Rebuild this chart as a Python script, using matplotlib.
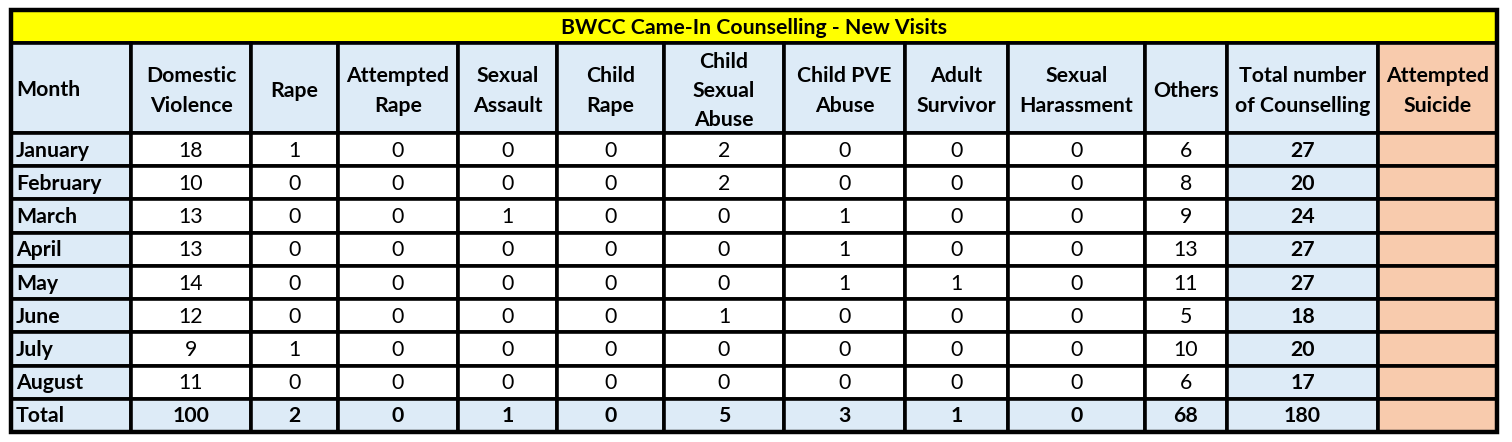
import matplotlib.pyplot as plt
from matplotlib.patches import Rectangle

titulo = 'BWCC Came-In Counselling - New Visits'
encabezados = ['Month', 'Domestic\nViolence', 'Rape', 'Attempted\nRape', 'Sexual\nAssault',
               'Child\nRape', 'Child\nSexual\nAbuse', 'Child PVE\nAbuse', 'Adult\nSurvivor',
               'Sexual\nHarassment', 'Others', 'Total number\nof Counselling', 'Attempted\nSuicide']
meses = ['January', 'February', 'March', 'April', 'May', 'June', 'July', 'August', 'Total']
domestic = [18, 10, 13, 13, 14, 12, 9, 11, 100]
rape = [1, 0, 0, 0, 0, 0, 1, 0, 2]
attempted_rape = [0, 0, 0, 0, 0, 0, 0, 0, 0]
sexual_assault = [0, 0, 1, 0, 0, 0, 0, 0, 1]
child_rape = [0, 0, 0, 0, 0, 0, 0, 0, 0]
child_sexual = [2, 2, 0, 0, 0, 1, 0, 0, 5]
child_pve = [0, 0, 1, 1, 1, 0, 0, 0, 3]
adult_survivor = [0, 0, 0, 0, 1, 0, 0, 0, 1]
sexual_harass = [0, 0, 0, 0, 0, 0, 0, 0, 0]
others = [6, 8, 9, 13, 11, 5, 10, 6, 68]
total_counselling = [27, 20, 24, 27, 27, 18, 20, 17, 180]
attempted_suicide = [''] * 9

columnas = [meses, domestic, rape, attempted_rape, sexual_assault, child_rape, child_sexual,
            child_pve, adult_survivor, sexual_harass, others, total_counselling, attempted_suicide]

# layout en pixeles
bordes_x = [11, 131, 251, 338, 458, 557, 664, 784, 905, 1008, 1145, 1227, 1378, 1497]
y_titulo, y_header, y_datos, y_fin = 10, 43, 133, 432
alto_fila = (y_fin - y_datos) / len(meses)

AZUL = '#DDEBF7'
PEACH = '#F8CBAD'
AMARILLO = '#FFFF00'
fuente = 'Lato'
tam = 15.3

fig = plt.figure(figsize=(15.12, 4.42), dpi=100)
ax = fig.add_axes([0, 0, 1, 1])
ax.set_xlim(0, 1512)
ax.set_ylim(442, 0)
ax.axis('off')

def celda(x0, x1, y0, y1, color):
    ax.add_patch(Rectangle((x0, y0), x1 - x0, y1 - y0, facecolor=color,
                           edgecolor='black', linewidth=2.6))

# titulo
celda(bordes_x[0], bordes_x[-1], y_titulo, y_header, AMARILLO)
ax.text((bordes_x[0] + bordes_x[-1]) / 2, (y_titulo + y_header) / 2 + 1, titulo,
        ha='center', va='center', fontsize=tam, fontweight='bold', family=fuente)

# encabezados
for j, texto in enumerate(encabezados):
    x0, x1 = bordes_x[j], bordes_x[j + 1]
    color = PEACH if j == len(encabezados) - 1 else AZUL
    celda(x0, x1, y_header, y_datos, color)
    if j == 0:
        ax.text(x0 + 5, (y_header + y_datos) / 2 + 2, texto, ha='left', va='center',
                fontsize=tam, fontweight='bold', family=fuente)
    else:
        ax.text((x0 + x1) / 2, (y_header + y_datos) / 2 + 3, texto, ha='center', va='center',
                fontsize=tam, fontweight='bold', family=fuente, linespacing=1.58)

# datos
for i in range(len(meses)):
    y0 = y_datos + i * alto_fila
    y1 = y0 + alto_fila
    fila_total = i == len(meses) - 1
    for j, col in enumerate(columnas):
        x0, x1 = bordes_x[j], bordes_x[j + 1]
        if j == len(columnas) - 1:
            color = PEACH
        elif j == 0 or j == len(columnas) - 2 or fila_total:
            color = AZUL
        else:
            color = 'white'
        celda(x0, x1, y0, y1, color)
        negrita = 'bold' if (j == 0 or j == len(columnas) - 2 or fila_total) else 'normal'
        if j == 0:
            ax.text(x0 + 5, (y0 + y1) / 2 + 1, col[i], ha='left', va='center',
                    fontsize=tam, fontweight=negrita, family=fuente)
        else:
            ax.text((x0 + x1) / 2, (y0 + y1) / 2 + 1, str(col[i]), ha='center', va='center',
                    fontsize=tam, fontweight=negrita, family=fuente)

# borde exterior
ax.add_patch(Rectangle((bordes_x[0], y_titulo), bordes_x[-1] - bordes_x[0], y_fin - y_titulo,
                       facecolor='none', edgecolor='black', linewidth=3.2))

fig.savefig('out.png', dpi=100)
